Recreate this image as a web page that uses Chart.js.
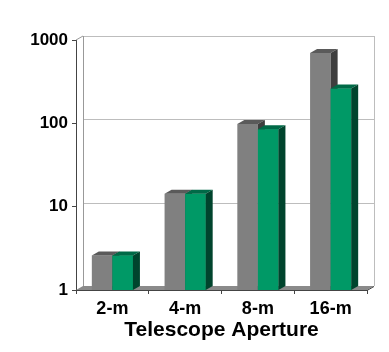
<!DOCTYPE html>
<html>
<head>
<meta charset="utf-8">
<script src="https://cdn.jsdelivr.net/npm/chart.js@4/dist/chart.umd.min.js"></script>
<style>
  html, body { margin: 0; padding: 0; background: #fff; }
  #wrap { width: 389px; height: 352px; }
</style>
</head>
<body>
<div id="wrap"><canvas id="grafico"></canvas></div>
<script>
// datos
const categorias = ['2-m', '4-m', '8-m', '16-m']
const serieGris = [2.6, 14.3, 98, 700]
const serieVerde = [2.6, 14.3, 85, 262]
const ticksY = [1, 10, 100, 1000]

// profundidad del efecto 3D
const dx = 7
const dy = 4

const colores = {
    gris: { frente: '#808080', arriba: '#5a5a5a', lado: '#3e3e3e' },
    verde: { frente: '#009966', arriba: '#006a47', lado: '#00442d' }
}

function extrusion(ctx, el, c) {
    const p = el.getProps(['x', 'y', 'base', 'width'], true)
    const l = p.x - p.width / 2
    const r = p.x + p.width / 2
    ctx.fillStyle = c.arriba
    ctx.beginPath()
    ctx.moveTo(l, p.y)
    ctx.lineTo(r, p.y)
    ctx.lineTo(r + dx, p.y - dy)
    ctx.lineTo(l + dx, p.y - dy)
    ctx.closePath()
    ctx.fill()
    ctx.fillStyle = c.lado
    ctx.beginPath()
    ctx.moveTo(r, p.y)
    ctx.lineTo(r + dx, p.y - dy)
    ctx.lineTo(r + dx, p.base - dy)
    ctx.lineTo(r, p.base)
    ctx.closePath()
    ctx.fill()
}

const tresD = {
    id: 'tresD',
    beforeDatasetsDraw(chart) {
        const ctx = chart.ctx
        const a = chart.chartArea
        const y = chart.scales.y
        ctx.save()
        ctx.lineWidth = 1
        // pared del fondo
        ctx.strokeStyle = '#bdbdbd'
        ticksY.forEach(v => {
            const py = Math.round(y.getPixelForValue(v) - dy) + 0.5
            ctx.beginPath()
            ctx.moveTo(a.left + dx, py)
            ctx.lineTo(a.right + dx, py)
            ctx.stroke()
        })
        ctx.beginPath()
        ctx.moveTo(a.right + dx + 0.5, a.top - dy)
        ctx.lineTo(a.right + dx + 0.5, a.bottom - dy)
        ctx.stroke()
        ctx.strokeStyle = '#999'
        ctx.beginPath()
        ctx.moveTo(a.left + dx + 0.5, a.top - dy)
        ctx.lineTo(a.left + dx + 0.5, a.bottom - dy)
        ctx.moveTo(a.left, a.top)
        ctx.lineTo(a.left + dx, a.top - dy)
        ctx.stroke()
        // piso
        ctx.fillStyle = '#8a8a8a'
        ctx.beginPath()
        ctx.moveTo(a.left, a.bottom)
        ctx.lineTo(a.right, a.bottom)
        ctx.lineTo(a.right + dx, a.bottom - dy)
        ctx.lineTo(a.left + dx, a.bottom - dy)
        ctx.closePath()
        ctx.fill()
        ctx.strokeStyle = '#444'
        ctx.beginPath()
        ctx.moveTo(a.left, a.bottom + 0.5)
        ctx.lineTo(a.right, a.bottom + 0.5)
        ctx.lineTo(a.right + dx, a.bottom - dy + 0.5)
        ctx.stroke()
        ctx.restore()
    },
    afterDatasetsDraw(chart) {
        const ctx = chart.ctx
        ctx.save()
        chart.getDatasetMeta(0).data.forEach(el => extrusion(ctx, el, colores.gris))
        chart.getDatasetMeta(1).data.forEach(el => {
            el.draw(ctx)
            extrusion(ctx, el, colores.verde)
        })
        ctx.restore()
    }
}

let grafico = new Chart(document.getElementById('grafico'), {
    type: 'bar',
    data: {
        labels: categorias,
        datasets: [
            { data: serieGris, backgroundColor: colores.gris.frente, borderWidth: 0 },
            { data: serieVerde, backgroundColor: colores.verde.frente, borderWidth: 0 }
        ]
    },
    options: {
        responsive: true,
        maintainAspectRatio: false,
        animation: false,
        layout: { padding: { top: 40, right: 22, left: 0, bottom: 9 } },
        plugins: { legend: { display: false }, tooltip: { enabled: false } },
        datasets: { bar: { categoryPercentage: 0.565, barPercentage: 1 } },
        scales: {
            x: {
                grid: { drawOnChartArea: false, tickLength: 4, color: '#444', offset: true },
                border: { display: false },
                ticks: { color: '#000', padding: 4, font: { family: 'Liberation Sans', size: 18, weight: 'bold' } },
                title: {
                    display: true,
                    text: 'Telescope Aperture',
                    color: '#000',
                    padding: 0,
                    font: { family: 'Liberation Sans', size: 21, weight: 'bold' }
                },
                afterFit: s => { s.height = 53 }
            },
            y: {
                type: 'logarithmic',
                min: 1,
                max: 1000,
                afterBuildTicks: s => { s.ticks = ticksY.map(v => ({ value: v })) },
                grid: { drawOnChartArea: false, tickLength: 4, color: '#444' },
                border: { display: true, color: '#444' },
                ticks: {
                    color: '#000',
                    padding: 4,
                    font: { family: 'Liberation Sans', size: 17, weight: 'bold' },
                    callback: v => String(v)
                },
                afterFit: s => { s.width = 76 }
            }
        }
    },
    plugins: [tresD]
})
</script>
</body>
</html>
